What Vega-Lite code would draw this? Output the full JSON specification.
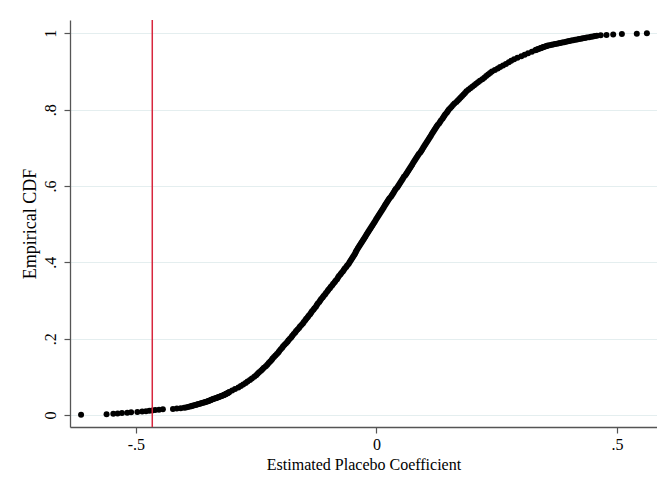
{
  "$schema": "https://vega.github.io/schema/vega-lite/v6.json",
  "width": 587,
  "height": 407,
  "autosize": "none",
  "padding": {"left": 70, "top": 20, "right": 0, "bottom": 65},
  "background": "white",
  "config": {
    "font": "Liberation Serif",
    "view": {"stroke": null},
    "axis": {
      "labelFont": "Liberation Serif",
      "titleFont": "Liberation Serif",
      "labelFontSize": 16,
      "titleFontSize": 16,
      "labelColor": "#000000",
      "titleColor": "#000000",
      "titleFontWeight": "normal",
      "domainColor": "#555555",
      "tickColor": "#555555",
      "tickSize": 6,
      "domainWidth": 1.3,
      "tickWidth": 1.2
    }
  },
  "datasets": {
    "ecdf": [
      {"coef": -0.614, "cdf": 0.001}, {"coef": -0.561, "cdf": 0.002}, {"coef": -0.547, "cdf": 0.003}, {"coef": -0.538, "cdf": 0.004},
      {"coef": -0.529, "cdf": 0.005}, {"coef": -0.518, "cdf": 0.006}, {"coef": -0.510, "cdf": 0.007}, {"coef": -0.497, "cdf": 0.008},
      {"coef": -0.487, "cdf": 0.009}, {"coef": -0.479, "cdf": 0.010}, {"coef": -0.472, "cdf": 0.011}, {"coef": -0.466, "cdf": 0.012},
      {"coef": -0.460, "cdf": 0.013}, {"coef": -0.452, "cdf": 0.014}, {"coef": -0.444, "cdf": 0.015}, {"coef": -0.423, "cdf": 0.016},
      {"coef": -0.415, "cdf": 0.017}, {"coef": -0.407, "cdf": 0.018}, {"coef": -0.400, "cdf": 0.019}, {"coef": -0.396, "cdf": 0.020},
      {"coef": -0.392, "cdf": 0.021}, {"coef": -0.388, "cdf": 0.022}, {"coef": -0.385, "cdf": 0.023}, {"coef": -0.383, "cdf": 0.024},
      {"coef": -0.380, "cdf": 0.025}, {"coef": -0.377, "cdf": 0.026}, {"coef": -0.374, "cdf": 0.027}, {"coef": -0.372, "cdf": 0.028},
      {"coef": -0.369, "cdf": 0.029}, {"coef": -0.366, "cdf": 0.030}, {"coef": -0.364, "cdf": 0.031}, {"coef": -0.361, "cdf": 0.032},
      {"coef": -0.358, "cdf": 0.033}, {"coef": -0.356, "cdf": 0.034}, {"coef": -0.353, "cdf": 0.035}, {"coef": -0.351, "cdf": 0.036},
      {"coef": -0.349, "cdf": 0.037}, {"coef": -0.347, "cdf": 0.038}, {"coef": -0.345, "cdf": 0.039}, {"coef": -0.343, "cdf": 0.040},
      {"coef": -0.341, "cdf": 0.041}, {"coef": -0.339, "cdf": 0.042}, {"coef": -0.337, "cdf": 0.043}, {"coef": -0.334, "cdf": 0.044},
      {"coef": -0.332, "cdf": 0.045}, {"coef": -0.330, "cdf": 0.046}, {"coef": -0.328, "cdf": 0.047}, {"coef": -0.326, "cdf": 0.048},
      {"coef": -0.324, "cdf": 0.049}, {"coef": -0.322, "cdf": 0.050}, {"coef": -0.320, "cdf": 0.051}, {"coef": -0.318, "cdf": 0.052},
      {"coef": -0.316, "cdf": 0.053}, {"coef": -0.315, "cdf": 0.054}, {"coef": -0.313, "cdf": 0.055}, {"coef": -0.312, "cdf": 0.056},
      {"coef": -0.310, "cdf": 0.057}, {"coef": -0.309, "cdf": 0.058}, {"coef": -0.307, "cdf": 0.059}, {"coef": -0.306, "cdf": 0.060},
      {"coef": -0.300, "cdf": 0.064}, {"coef": -0.294, "cdf": 0.068}, {"coef": -0.287, "cdf": 0.072}, {"coef": -0.282, "cdf": 0.076},
      {"coef": -0.277, "cdf": 0.080}, {"coef": -0.272, "cdf": 0.084}, {"coef": -0.268, "cdf": 0.088}, {"coef": -0.263, "cdf": 0.092},
      {"coef": -0.259, "cdf": 0.096}, {"coef": -0.254, "cdf": 0.100}, {"coef": -0.250, "cdf": 0.104}, {"coef": -0.247, "cdf": 0.108},
      {"coef": -0.244, "cdf": 0.112}, {"coef": -0.240, "cdf": 0.116}, {"coef": -0.237, "cdf": 0.120}, {"coef": -0.234, "cdf": 0.124},
      {"coef": -0.230, "cdf": 0.128}, {"coef": -0.227, "cdf": 0.132}, {"coef": -0.224, "cdf": 0.136}, {"coef": -0.221, "cdf": 0.140},
      {"coef": -0.218, "cdf": 0.144}, {"coef": -0.216, "cdf": 0.148}, {"coef": -0.213, "cdf": 0.152}, {"coef": -0.210, "cdf": 0.156},
      {"coef": -0.207, "cdf": 0.160}, {"coef": -0.204, "cdf": 0.164}, {"coef": -0.202, "cdf": 0.168}, {"coef": -0.199, "cdf": 0.172},
      {"coef": -0.196, "cdf": 0.176}, {"coef": -0.194, "cdf": 0.180}, {"coef": -0.191, "cdf": 0.184}, {"coef": -0.188, "cdf": 0.188},
      {"coef": -0.185, "cdf": 0.192}, {"coef": -0.183, "cdf": 0.196}, {"coef": -0.180, "cdf": 0.200}, {"coef": -0.177, "cdf": 0.204},
      {"coef": -0.175, "cdf": 0.208}, {"coef": -0.172, "cdf": 0.212}, {"coef": -0.169, "cdf": 0.216}, {"coef": -0.167, "cdf": 0.220},
      {"coef": -0.164, "cdf": 0.224}, {"coef": -0.161, "cdf": 0.228}, {"coef": -0.159, "cdf": 0.232}, {"coef": -0.156, "cdf": 0.236},
      {"coef": -0.153, "cdf": 0.240}, {"coef": -0.151, "cdf": 0.244}, {"coef": -0.148, "cdf": 0.248}, {"coef": -0.146, "cdf": 0.252},
      {"coef": -0.143, "cdf": 0.256}, {"coef": -0.141, "cdf": 0.260}, {"coef": -0.138, "cdf": 0.264}, {"coef": -0.136, "cdf": 0.268},
      {"coef": -0.134, "cdf": 0.272}, {"coef": -0.131, "cdf": 0.276}, {"coef": -0.129, "cdf": 0.280}, {"coef": -0.126, "cdf": 0.284},
      {"coef": -0.124, "cdf": 0.288}, {"coef": -0.122, "cdf": 0.292}, {"coef": -0.119, "cdf": 0.296}, {"coef": -0.117, "cdf": 0.300},
      {"coef": -0.115, "cdf": 0.304}, {"coef": -0.112, "cdf": 0.308}, {"coef": -0.110, "cdf": 0.312}, {"coef": -0.107, "cdf": 0.316},
      {"coef": -0.105, "cdf": 0.320}, {"coef": -0.102, "cdf": 0.324}, {"coef": -0.100, "cdf": 0.328}, {"coef": -0.097, "cdf": 0.332},
      {"coef": -0.095, "cdf": 0.336}, {"coef": -0.092, "cdf": 0.340}, {"coef": -0.090, "cdf": 0.344}, {"coef": -0.087, "cdf": 0.348},
      {"coef": -0.085, "cdf": 0.352}, {"coef": -0.082, "cdf": 0.356}, {"coef": -0.080, "cdf": 0.360}, {"coef": -0.078, "cdf": 0.364},
      {"coef": -0.075, "cdf": 0.368}, {"coef": -0.073, "cdf": 0.372}, {"coef": -0.070, "cdf": 0.376}, {"coef": -0.068, "cdf": 0.380},
      {"coef": -0.066, "cdf": 0.384}, {"coef": -0.063, "cdf": 0.388}, {"coef": -0.061, "cdf": 0.392}, {"coef": -0.058, "cdf": 0.396},
      {"coef": -0.056, "cdf": 0.400}, {"coef": -0.054, "cdf": 0.404}, {"coef": -0.052, "cdf": 0.408}, {"coef": -0.050, "cdf": 0.412},
      {"coef": -0.048, "cdf": 0.416}, {"coef": -0.046, "cdf": 0.420}, {"coef": -0.044, "cdf": 0.424}, {"coef": -0.043, "cdf": 0.428},
      {"coef": -0.041, "cdf": 0.432}, {"coef": -0.039, "cdf": 0.436}, {"coef": -0.037, "cdf": 0.440}, {"coef": -0.035, "cdf": 0.444},
      {"coef": -0.033, "cdf": 0.448}, {"coef": -0.031, "cdf": 0.452}, {"coef": -0.029, "cdf": 0.456}, {"coef": -0.027, "cdf": 0.460},
      {"coef": -0.025, "cdf": 0.464}, {"coef": -0.023, "cdf": 0.468}, {"coef": -0.021, "cdf": 0.472}, {"coef": -0.019, "cdf": 0.476},
      {"coef": -0.017, "cdf": 0.480}, {"coef": -0.015, "cdf": 0.484}, {"coef": -0.013, "cdf": 0.488}, {"coef": -0.011, "cdf": 0.492},
      {"coef": -0.009, "cdf": 0.496}, {"coef": -0.007, "cdf": 0.500}, {"coef": -0.005, "cdf": 0.504}, {"coef": -0.003, "cdf": 0.508},
      {"coef": -0.001, "cdf": 0.512}, {"coef": 0.001, "cdf": 0.516}, {"coef": 0.003, "cdf": 0.520}, {"coef": 0.005, "cdf": 0.524},
      {"coef": 0.007, "cdf": 0.528}, {"coef": 0.009, "cdf": 0.532}, {"coef": 0.011, "cdf": 0.536}, {"coef": 0.013, "cdf": 0.540},
      {"coef": 0.015, "cdf": 0.544}, {"coef": 0.017, "cdf": 0.548}, {"coef": 0.019, "cdf": 0.552}, {"coef": 0.021, "cdf": 0.556},
      {"coef": 0.023, "cdf": 0.560}, {"coef": 0.025, "cdf": 0.564}, {"coef": 0.027, "cdf": 0.568}, {"coef": 0.030, "cdf": 0.572},
      {"coef": 0.032, "cdf": 0.576}, {"coef": 0.034, "cdf": 0.580}, {"coef": 0.036, "cdf": 0.584}, {"coef": 0.038, "cdf": 0.588},
      {"coef": 0.040, "cdf": 0.592}, {"coef": 0.043, "cdf": 0.596}, {"coef": 0.045, "cdf": 0.600}, {"coef": 0.047, "cdf": 0.604},
      {"coef": 0.049, "cdf": 0.608}, {"coef": 0.051, "cdf": 0.612}, {"coef": 0.053, "cdf": 0.616}, {"coef": 0.055, "cdf": 0.620},
      {"coef": 0.057, "cdf": 0.624}, {"coef": 0.060, "cdf": 0.628}, {"coef": 0.062, "cdf": 0.632}, {"coef": 0.064, "cdf": 0.636},
      {"coef": 0.066, "cdf": 0.640}, {"coef": 0.068, "cdf": 0.644}, {"coef": 0.070, "cdf": 0.648}, {"coef": 0.072, "cdf": 0.652},
      {"coef": 0.074, "cdf": 0.656}, {"coef": 0.076, "cdf": 0.660}, {"coef": 0.078, "cdf": 0.664}, {"coef": 0.080, "cdf": 0.668},
      {"coef": 0.082, "cdf": 0.672}, {"coef": 0.084, "cdf": 0.676}, {"coef": 0.086, "cdf": 0.680}, {"coef": 0.088, "cdf": 0.684},
      {"coef": 0.091, "cdf": 0.688}, {"coef": 0.093, "cdf": 0.692}, {"coef": 0.095, "cdf": 0.696}, {"coef": 0.097, "cdf": 0.700},
      {"coef": 0.099, "cdf": 0.704}, {"coef": 0.101, "cdf": 0.708}, {"coef": 0.103, "cdf": 0.712}, {"coef": 0.105, "cdf": 0.716},
      {"coef": 0.107, "cdf": 0.720}, {"coef": 0.109, "cdf": 0.724}, {"coef": 0.111, "cdf": 0.728}, {"coef": 0.113, "cdf": 0.732},
      {"coef": 0.115, "cdf": 0.736}, {"coef": 0.117, "cdf": 0.740}, {"coef": 0.119, "cdf": 0.744}, {"coef": 0.121, "cdf": 0.748},
      {"coef": 0.123, "cdf": 0.752}, {"coef": 0.125, "cdf": 0.756}, {"coef": 0.127, "cdf": 0.760}, {"coef": 0.130, "cdf": 0.764},
      {"coef": 0.132, "cdf": 0.768}, {"coef": 0.134, "cdf": 0.772}, {"coef": 0.137, "cdf": 0.776}, {"coef": 0.139, "cdf": 0.780},
      {"coef": 0.141, "cdf": 0.784}, {"coef": 0.143, "cdf": 0.788}, {"coef": 0.146, "cdf": 0.792}, {"coef": 0.148, "cdf": 0.796},
      {"coef": 0.150, "cdf": 0.800}, {"coef": 0.153, "cdf": 0.804}, {"coef": 0.156, "cdf": 0.808}, {"coef": 0.159, "cdf": 0.812},
      {"coef": 0.162, "cdf": 0.816}, {"coef": 0.166, "cdf": 0.820}, {"coef": 0.169, "cdf": 0.824}, {"coef": 0.172, "cdf": 0.828},
      {"coef": 0.175, "cdf": 0.832}, {"coef": 0.178, "cdf": 0.836}, {"coef": 0.181, "cdf": 0.840}, {"coef": 0.184, "cdf": 0.844},
      {"coef": 0.187, "cdf": 0.848}, {"coef": 0.191, "cdf": 0.852}, {"coef": 0.195, "cdf": 0.856}, {"coef": 0.199, "cdf": 0.860},
      {"coef": 0.203, "cdf": 0.864}, {"coef": 0.207, "cdf": 0.868}, {"coef": 0.211, "cdf": 0.872}, {"coef": 0.215, "cdf": 0.876},
      {"coef": 0.220, "cdf": 0.880}, {"coef": 0.224, "cdf": 0.884}, {"coef": 0.228, "cdf": 0.888}, {"coef": 0.232, "cdf": 0.892},
      {"coef": 0.236, "cdf": 0.896}, {"coef": 0.240, "cdf": 0.900}, {"coef": 0.246, "cdf": 0.904}, {"coef": 0.252, "cdf": 0.908},
      {"coef": 0.257, "cdf": 0.912}, {"coef": 0.263, "cdf": 0.916}, {"coef": 0.269, "cdf": 0.920}, {"coef": 0.275, "cdf": 0.924},
      {"coef": 0.280, "cdf": 0.928}, {"coef": 0.286, "cdf": 0.932}, {"coef": 0.293, "cdf": 0.936}, {"coef": 0.301, "cdf": 0.940},
      {"coef": 0.308, "cdf": 0.944}, {"coef": 0.315, "cdf": 0.948}, {"coef": 0.323, "cdf": 0.952}, {"coef": 0.330, "cdf": 0.956},
      {"coef": 0.332, "cdf": 0.957}, {"coef": 0.334, "cdf": 0.958}, {"coef": 0.336, "cdf": 0.959}, {"coef": 0.339, "cdf": 0.960},
      {"coef": 0.341, "cdf": 0.961}, {"coef": 0.343, "cdf": 0.962}, {"coef": 0.345, "cdf": 0.963}, {"coef": 0.347, "cdf": 0.964},
      {"coef": 0.349, "cdf": 0.965}, {"coef": 0.352, "cdf": 0.966}, {"coef": 0.354, "cdf": 0.967}, {"coef": 0.356, "cdf": 0.968},
      {"coef": 0.360, "cdf": 0.969}, {"coef": 0.364, "cdf": 0.970}, {"coef": 0.367, "cdf": 0.971}, {"coef": 0.371, "cdf": 0.972},
      {"coef": 0.375, "cdf": 0.973}, {"coef": 0.379, "cdf": 0.974}, {"coef": 0.382, "cdf": 0.975}, {"coef": 0.386, "cdf": 0.976},
      {"coef": 0.390, "cdf": 0.977}, {"coef": 0.394, "cdf": 0.978}, {"coef": 0.398, "cdf": 0.979}, {"coef": 0.401, "cdf": 0.980},
      {"coef": 0.405, "cdf": 0.981}, {"coef": 0.409, "cdf": 0.982}, {"coef": 0.413, "cdf": 0.983}, {"coef": 0.417, "cdf": 0.984},
      {"coef": 0.421, "cdf": 0.985}, {"coef": 0.425, "cdf": 0.986}, {"coef": 0.429, "cdf": 0.987}, {"coef": 0.433, "cdf": 0.988},
      {"coef": 0.437, "cdf": 0.989}, {"coef": 0.442, "cdf": 0.990}, {"coef": 0.446, "cdf": 0.991}, {"coef": 0.450, "cdf": 0.992},
      {"coef": 0.454, "cdf": 0.993}, {"coef": 0.458, "cdf": 0.994}, {"coef": 0.466, "cdf": 0.995}, {"coef": 0.478, "cdf": 0.996},
      {"coef": 0.492, "cdf": 0.997}, {"coef": 0.510, "cdf": 0.998}, {"coef": 0.541, "cdf": 0.999}, {"coef": 0.562, "cdf": 1.000}
    ],
    "actual": [{"coef": -0.466}]
  },
  "layer": [
    {
      "data": {"name": "ecdf"},
      "mark": {"type": "point", "filled": true, "shape": "circle", "size": 36, "color": "#000000", "opacity": 1},
      "encoding": {
        "x": {
          "field": "coef", "type": "quantitative",
          "scale": {"domain": [-0.637, 0.583], "nice": false, "zero": false},
          "axis": {
            "title": "Estimated Placebo Coefficient",
            "values": [-0.5, 0, 0.5],
            "labelExpr": "datum.value == 0 ? '0' : (datum.value < 0 ? '-' : '') + replace(format(abs(datum.value), '.1~f'), /^0/, '')",
            "grid": false,
            "labelPadding": 3,
            "titlePadding": 4
          }
        },
        "y": {
          "field": "cdf", "type": "quantitative",
          "scale": {"domain": [-0.0314, 1.035], "nice": false, "zero": false},
          "axis": {
            "title": "Empirical CDF",
            "titleFontSize": 18,
            "values": [0, 0.2, 0.4, 0.6, 0.8, 1],
            "labelExpr": "datum.value == 0 ? '0' : datum.value == 1 ? '1' : replace(format(datum.value, '.1~f'), /^0/, '')",
            "labelAngle": 270,
            "labelPadding": 6,
            "titlePadding": 3,
            "grid": true,
            "gridColor": "#e4eeef",
            "gridWidth": 1.2
          }
        }
      }
    },
    {
      "data": {"name": "actual"},
      "mark": {"type": "rule", "color": "#d7263d", "strokeWidth": 1.5},
      "encoding": {"x": {"field": "coef", "type": "quantitative"}}
    }
  ]
}
